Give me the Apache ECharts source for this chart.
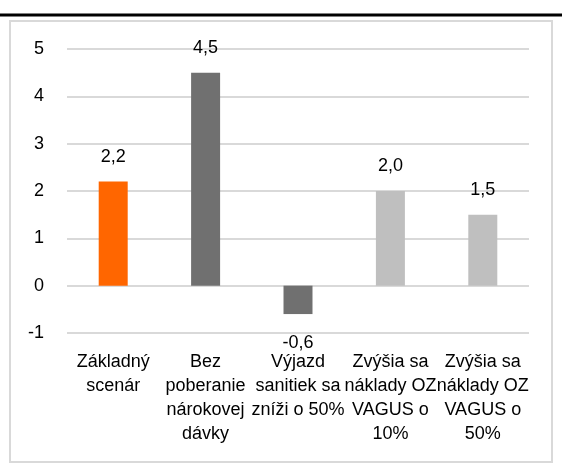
<!DOCTYPE html>
<html>
<head>
<meta charset="utf-8">
<script src="https://cdn.jsdelivr.net/npm/echarts@6/dist/echarts.min.js"></script>
<style>
  html, body { margin: 0; padding: 0; background: #fff; }
  #chart { width: 562px; height: 467px; }
</style>
</head>
<body>
<div id="chart"></div>
<script>
// kategórie a hodnoty
var categories = [
  "Základný\nscenár",
  "Bez\npoberanie\nnárokovej\ndávky",
  "Výjazd\nsanitiek sa\nzníži o 50%",
  "Zvýšia sa\nnáklady OZ\nVAGUS o\n10%",
  "Zvýšia sa\nnáklady OZ\nVAGUS o\n50%"
];
var values = [2.2, 4.5, -0.6, 2.0, 1.5];
var barColors = ["#FF6600", "#707070", "#707070", "#BFBFBF", "#BFBFBF"];
var yTicks = [-1, 0, 1, 2, 3, 4, 5];

var font = "'Liberation Sans', Arial, sans-serif";

var chart = echarts.init(document.getElementById("chart"));

// záporná hodnota má popis pod stĺpcom
var data = [];
for (var i = 0; i < values.length; i++) {
  var neg = values[i] < 0;
  data.push({
    value: values[i],
    itemStyle: { color: barColors[i] },
    label: { position: neg ? "bottom" : "top", distance: neg ? 20 : 16 }
  });
}

var option = {
  animation: false,
  backgroundColor: "#fff",
  graphic: [
    {
      type: "line",
      shape: { x1: 0, y1: 15, x2: 562, y2: 15 },
      style: { stroke: "#000", lineWidth: 3 }
    },
    {
      type: "rect",
      shape: { x: 10, y: 21, width: 542, height: 441 },
      style: { fill: "none", stroke: "#d9d9d9", lineWidth: 2 }
    }
  ],
  grid: { left: 67, right: 33, top: 49, bottom: 134 },
  xAxis: {
    type: "category",
    data: categories,
    axisLine: { show: false },
    axisTick: { show: false },
    axisLabel: {
      interval: 0,
      margin: 17,
      color: "#000",
      fontFamily: font,
      fontSize: 18,
      lineHeight: 24
    }
  },
  yAxis: {
    type: "value",
    min: yTicks[0],
    max: yTicks[yTicks.length - 1],
    interval: 1,
    axisLine: { show: false },
    axisTick: { show: false },
    splitLine: { lineStyle: { color: "#d9d9d9", width: 2 } },
    axisLabel: {
      margin: 23,
      color: "#000",
      fontFamily: font,
      fontSize: 18
    }
  },
  series: [
    {
      type: "bar",
      data: data,
      barWidth: 29,
      label: {
        show: true,
        color: "#000",
        fontFamily: font,
        fontSize: 18,
        formatter: function (p) {
          return p.value.toFixed(1).replace(".", ",");
        }
      }
    }
  ]
};

chart.setOption(option);
</script>
</body>
</html>
